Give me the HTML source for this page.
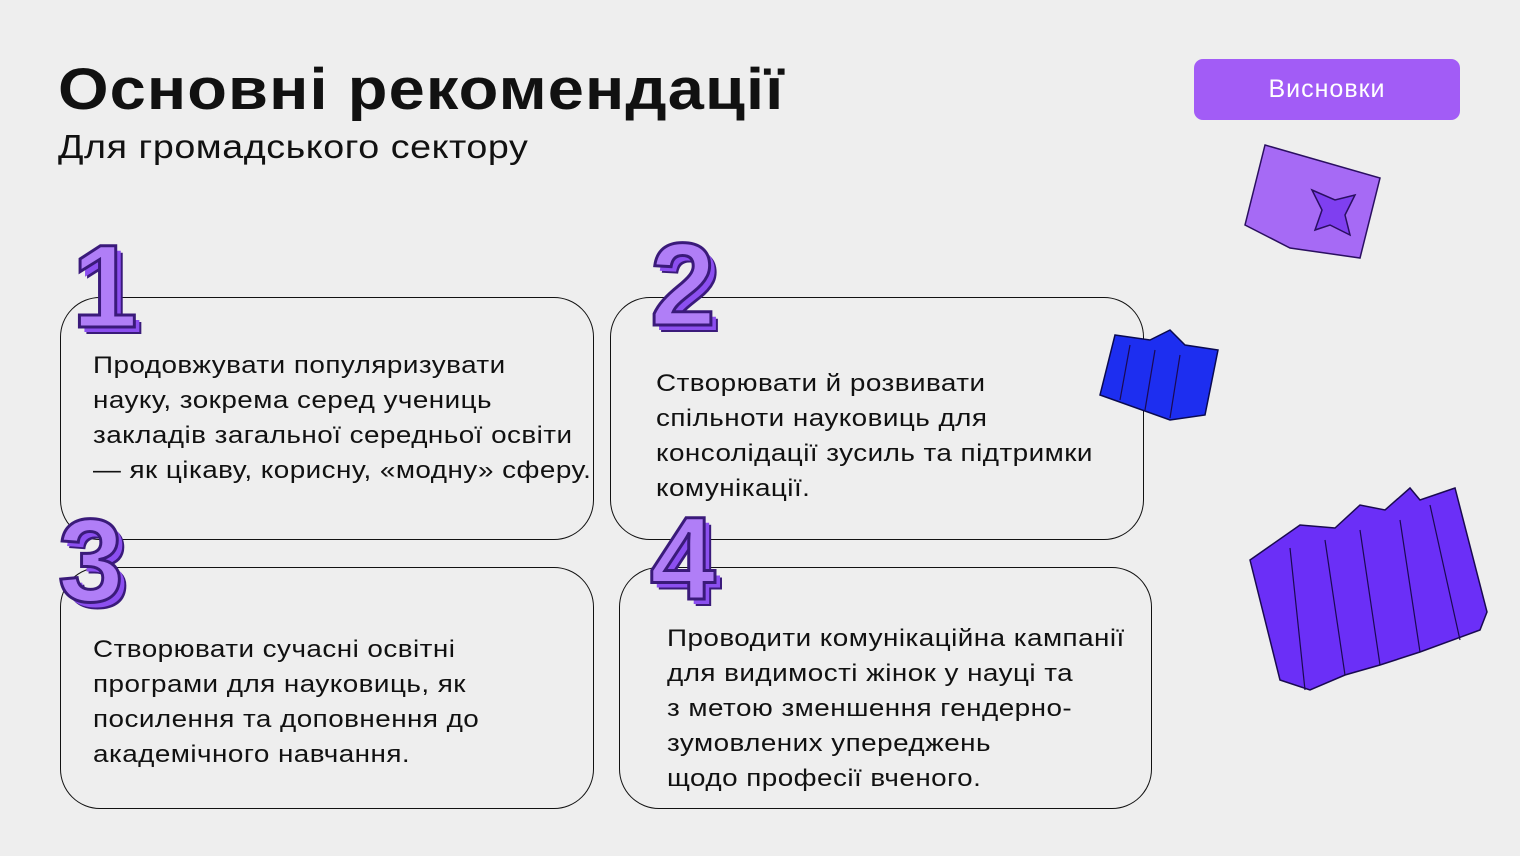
<!DOCTYPE html>
<html><head><meta charset="utf-8"><style>
body{margin:0;width:1520px;height:856px;background:#eeeeee;position:relative;overflow:hidden;font-family:"Liberation Sans",sans-serif;color:#111}
.t{position:absolute;left:58px;top:56px;font-size:58px;font-weight:bold;letter-spacing:1px;transform:scaleX(1.12);transform-origin:left}
.s{position:absolute;left:58px;top:128px;font-size:33px;letter-spacing:.5px;transform:scaleX(1.14);transform-origin:left}
.btn{position:absolute;left:1194px;top:59px;width:266px;height:61px;background:#a25cf6;border-radius:9px;color:#fff;font-size:25px;text-align:center;line-height:61px;letter-spacing:1px}
.box{position:absolute;border:1.6px solid #111;border-radius:40px;box-sizing:border-box}
.tx{position:absolute;font-size:24px;line-height:35px;letter-spacing:.4px;white-space:nowrap;transform:scaleX(1.16);transform-origin:left top}
.n{position:absolute;font-size:118px;font-weight:bold;color:#b07ef7;-webkit-text-stroke:3px #3a1a7a;text-shadow:5px 5px 0 #8c4ff0,7px 7px 0 #3a1a7a;line-height:1}
</style></head><body>
<div class="t">Основні рекомендації</div>
<div class="s">Для громадського сектору</div>
<div class="btn">Висновки</div>

<div class="box" style="left:60px;top:297px;width:534px;height:243px"></div>
<div class="box" style="left:610px;top:297px;width:534px;height:243px"></div>
<div class="box" style="left:60px;top:567px;width:534px;height:242px"></div>
<div class="box" style="left:619px;top:567px;width:533px;height:242px"></div>

<div class="tx" style="left:93px;top:348px">Продовжувати популяризувати<br>науку, зокрема серед учениць<br>закладів загальної середньої освіти<br>— як цікаву, корисну, «модну» сферу.</div>
<div class="tx" style="left:656px;top:366px">Створювати й розвивати<br>спільноти науковиць для<br>консолідації зусиль та підтримки<br>комунікації.</div>
<div class="tx" style="left:93px;top:632px">Створювати сучасні освітні<br>програми для науковиць, як<br>посилення та доповнення до<br>академічного навчання.</div>
<div class="tx" style="left:667px;top:621px">Проводити комунікаційна кампанії<br>для видимості жінок у науці та<br>з метою зменшення гендерно-<br>зумовлених упереджень<br>щодо професії вченого.</div>

<div class="n" style="left:72px;top:228px">1</div>
<div class="n" style="left:650px;top:226px">2</div>
<div class="n" style="left:58px;top:502px">3</div>
<div class="n" style="left:650px;top:500px">4</div>

<svg style="position:absolute;left:0;top:0" width="1520" height="856">
<polygon points="1265,145 1380,178 1360,258 1290,248 1245,225" fill="#a66af5" stroke="#2a0f60" stroke-width="1.5"/>
<polygon points="1312,190 1335,200 1355,195 1345,215 1350,235 1330,225 1315,230 1322,210" fill="#7f3ff0" stroke="#2a0f60" stroke-width="1.5"/>
<polygon points="1115,335 1150,340 1170,330 1185,345 1218,350 1205,415 1170,420 1100,395" fill="#1d2ef0" stroke="#0a0a50" stroke-width="1.5"/>
<polygon points="1250,560 1300,525 1335,528 1360,505 1385,510 1410,488 1420,500 1455,488 1487,612 1480,630 1420,652 1380,665 1345,675 1310,690 1280,680" fill="#6b2ff7" stroke="#1a0a50" stroke-width="1.5"/>
<g stroke="#1a0a50" stroke-width="1.2" fill="none">
<line x1="1290" y1="548" x2="1305" y2="690"/><line x1="1325" y1="540" x2="1345" y2="675"/><line x1="1360" y1="530" x2="1380" y2="665"/><line x1="1400" y1="520" x2="1420" y2="652"/><line x1="1430" y1="505" x2="1460" y2="640"/>
<line x1="1130" y1="345" x2="1120" y2="400"/><line x1="1155" y1="350" x2="1145" y2="410"/><line x1="1180" y1="355" x2="1170" y2="418"/>
</g>
</svg>
</body></html>
